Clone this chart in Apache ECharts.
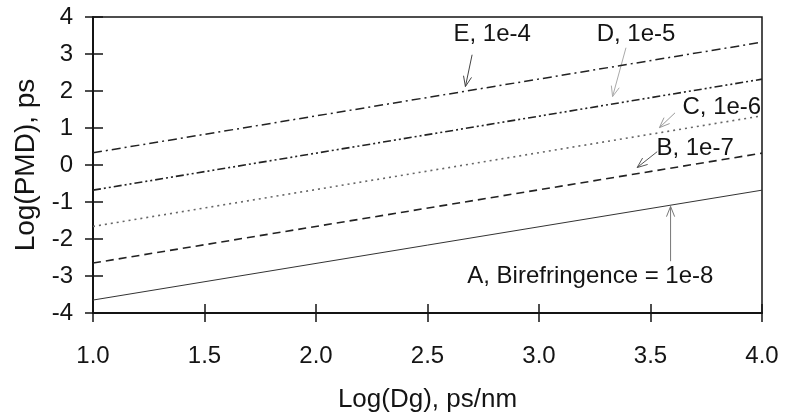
<!DOCTYPE html>
<html>
<head>
<meta charset="utf-8">
<script src="https://cdn.jsdelivr.net/npm/echarts@6/dist/echarts.min.js"></script>
<style>
  html, body { margin: 0; padding: 0; background: #fff; }
  #main { width: 785px; height: 418px; }
</style>
</head>
<body>
<div id="main"></div>
<script>
// Log(Dg) endpoints and Log(PMD) for each birefringence level
const xValues = [1.0, 4.0];
const lineA = [-3.65, -0.68];  // 1e-8
const lineB = [-2.65, 0.32];   // 1e-7
const lineC = [-1.66, 1.33];   // 1e-6
const lineD = [-0.68, 2.32];   // 1e-5
const lineE = [0.33, 3.32];    // 1e-4

const xTicks = [1.0, 1.5, 2.0, 2.5, 3.0, 3.5, 4.0];
const yTicks = [-4, -3, -2, -1, 0, 1, 2, 3, 4];

const FONT = '"Liberation Sans", Arial, Helvetica, sans-serif';
const INK = '#141414';

function pairs(ys) { return xValues.map((x, i) => [x, ys[i]]); }

// callouts: label centre, arrow tail and arrow tip, in data coordinates
const notes = [
  { text: 'E, 1e-4', label: [2.79, 3.52], tail: [2.70, 2.98], tip: [2.67, 2.12], color: '#444' },
  { text: 'D, 1e-5', label: [3.435, 3.52], tail: [3.39, 3.17], tip: [3.33, 1.85], color: '#aaa' },
  { text: 'C, 1e-6', label: [3.82, 1.55], tail: [3.61, 1.41], tip: [3.54, 1.01], color: '#999' },
  { text: 'B, 1e-7', label: [3.70, 0.44], tail: [3.53, 0.36], tip: [3.44, -0.07], color: '#555' },
  { text: 'A, Birefringence = 1e-8', label: [3.23, -3.0], tail: [3.59, -2.6], tip: [3.59, -1.12], color: '#777' }
];

const chart = echarts.init(document.getElementById('main'));

const commonX = { type: 'value', min: 1, max: 4, interval: 0.5, gridIndex: 0 };
const commonY = { type: 'value', min: -4, max: 4, interval: 1, gridIndex: 0 };

function line(name, ys, color, width, dash) {
  return {
    name, type: 'line', data: pairs(ys), showSymbol: false, symbol: 'none',
    silent: true, animation: false,
    lineStyle: { color, width, type: dash }
  };
}

chart.setOption({
  animation: false,
  backgroundColor: '#fff',
  grid: {
    left: 93, right: 23, top: 17, bottom: 104,
    show: true, borderColor: INK, borderWidth: 1.5, backgroundColor: 'transparent'
  },
  xAxis: [
    Object.assign({}, commonX, {
      name: 'Log(Dg), ps/nm', nameLocation: 'middle', nameGap: 74,
      nameTextStyle: { fontFamily: FONT, fontSize: 26, color: INK },
      axisLine: { show: true, onZero: false, lineStyle: { color: INK, width: 2 } },
      axisTick: { show: true, length: 9, lineStyle: { color: INK, width: 1.5 } },
      axisLabel: {
        margin: 31, fontFamily: FONT, fontSize: 24, color: INK,
        formatter: v => xTicks.includes(v) ? v.toFixed(1) : ''
      },
      splitLine: { show: false }
    }),
    Object.assign({}, commonX, {
      position: 'bottom',
      axisLine: { show: false, onZero: false },
      axisTick: { show: true, inside: true, length: 9, lineStyle: { color: INK, width: 1.5 } },
      axisLabel: { show: false },
      splitLine: { show: false }
    })
  ],
  yAxis: [
    Object.assign({}, commonY, {
      name: 'Log(PMD), ps', nameLocation: 'middle', nameGap: 52,
      nameTextStyle: { fontFamily: FONT, fontSize: 28, color: INK },
      axisLine: { show: true, onZero: false, lineStyle: { color: INK, width: 2 } },
      axisTick: { show: true, length: 8, lineStyle: { color: INK, width: 1.5 } },
      axisLabel: {
        margin: 20, fontFamily: FONT, fontSize: 24, color: INK,
        formatter: v => yTicks.includes(v) ? String(v) : ''
      },
      splitLine: { show: false }
    }),
    Object.assign({}, commonY, {
      position: 'left',
      axisLine: { show: false, onZero: false },
      axisTick: { show: true, inside: true, length: 10, lineStyle: { color: INK, width: 1.5 } },
      axisLabel: { show: false },
      splitLine: { show: false }
    })
  ],
  series: [
    line('A', lineA, '#333', 1, 'solid'),
    line('B', lineB, '#222', 1.6, [8, 5]),
    line('C', lineC, '#666', 1.6, [2, 4]),
    line('D', lineD, '#222', 1.6, [8, 3, 2, 3, 2, 3]),
    line('E', lineE, '#222', 1.5, [9, 4, 2, 4])
  ]
});

// callout arrows with open heads, placed through the grid's own scales
function drawNotes() {
  const els = [];
  notes.forEach(n => {
    const tail = chart.convertToPixel({ gridIndex: 0 }, n.tail);
    const tip = chart.convertToPixel({ gridIndex: 0 }, n.tip);
    const lp = chart.convertToPixel({ gridIndex: 0 }, n.label);
    const ang = Math.atan2(tip[1] - tail[1], tip[0] - tail[0]);
    const h = 11, spread = 0.38;
    const p1 = [tip[0] - h * Math.cos(ang - spread), tip[1] - h * Math.sin(ang - spread)];
    const p2 = [tip[0] - h * Math.cos(ang + spread), tip[1] - h * Math.sin(ang + spread)];
    els.push({ type: 'line', silent: true, shape: { x1: tail[0], y1: tail[1], x2: tip[0], y2: tip[1] },
      style: { stroke: n.color, lineWidth: 1 } });
    els.push({ type: 'polyline', silent: true, shape: { points: [p1, tip, p2] },
      style: { stroke: n.color, lineWidth: 1, fill: null } });
    els.push({ type: 'text', silent: true, x: lp[0], y: lp[1],
      style: { text: n.text, fill: INK, fontFamily: FONT, fontSize: 24, align: 'center', verticalAlign: 'middle' } });
  });
  chart.setOption({ graphic: { elements: els } });
}
drawNotes();
</script>
</body>
</html>
